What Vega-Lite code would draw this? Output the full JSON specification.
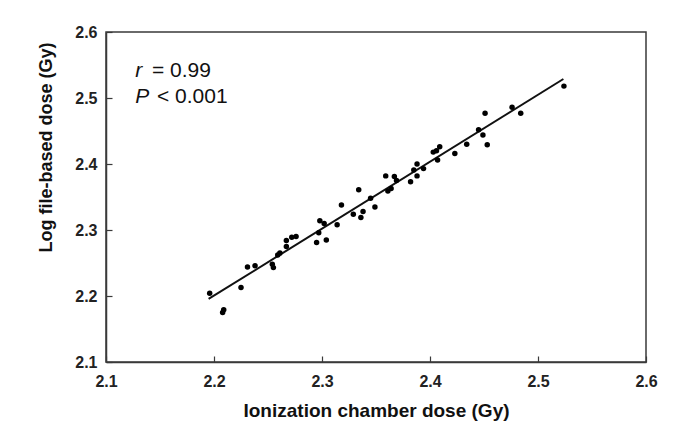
{
  "$schema": "https://vega.github.io/schema/vega-lite/v6.json",
  "width": 540,
  "height": 330,
  "autosize": "none",
  "padding": {"left": 106, "top": 32, "right": 40, "bottom": 66},
  "background": "white",
  "config": {
    "font": "Liberation Sans",
    "view": {"stroke": "#3a3a3a", "strokeWidth": 1.5},
    "axis": {
      "grid": false,
      "domainColor": "#3a3a3a",
      "domainWidth": 1.5,
      "tickColor": "#3a3a3a",
      "tickWidth": 1.2,
      "tickSize": -6,
      "labelFont": "Liberation Sans",
      "labelFontSize": 16,
      "labelFontWeight": "bold",
      "labelColor": "#222",
      "labelOverlap": false,
      "labelFlush": false,
      "titleFont": "Liberation Sans",
      "titleFontWeight": "bold",
      "titleColor": "#111"
    }
  },
  "datasets": {
    "points": [
      {"chamber": 2.196, "logfile": 2.204},
      {"chamber": 2.209, "logfile": 2.179},
      {"chamber": 2.208, "logfile": 2.175},
      {"chamber": 2.225, "logfile": 2.213},
      {"chamber": 2.231, "logfile": 2.244},
      {"chamber": 2.238, "logfile": 2.246},
      {"chamber": 2.254, "logfile": 2.248},
      {"chamber": 2.255, "logfile": 2.243},
      {"chamber": 2.259, "logfile": 2.262},
      {"chamber": 2.261, "logfile": 2.265},
      {"chamber": 2.267, "logfile": 2.284},
      {"chamber": 2.267, "logfile": 2.275},
      {"chamber": 2.272, "logfile": 2.289},
      {"chamber": 2.276, "logfile": 2.29},
      {"chamber": 2.295, "logfile": 2.281},
      {"chamber": 2.297, "logfile": 2.296},
      {"chamber": 2.298, "logfile": 2.314},
      {"chamber": 2.302, "logfile": 2.31},
      {"chamber": 2.304, "logfile": 2.285},
      {"chamber": 2.314, "logfile": 2.308},
      {"chamber": 2.318, "logfile": 2.338},
      {"chamber": 2.329, "logfile": 2.324},
      {"chamber": 2.336, "logfile": 2.319},
      {"chamber": 2.338, "logfile": 2.328},
      {"chamber": 2.334, "logfile": 2.361},
      {"chamber": 2.345, "logfile": 2.348},
      {"chamber": 2.349, "logfile": 2.335},
      {"chamber": 2.359, "logfile": 2.382},
      {"chamber": 2.361, "logfile": 2.359},
      {"chamber": 2.364, "logfile": 2.363},
      {"chamber": 2.367, "logfile": 2.381},
      {"chamber": 2.369, "logfile": 2.375},
      {"chamber": 2.382, "logfile": 2.373},
      {"chamber": 2.385, "logfile": 2.391},
      {"chamber": 2.388, "logfile": 2.4},
      {"chamber": 2.388, "logfile": 2.382},
      {"chamber": 2.394, "logfile": 2.393},
      {"chamber": 2.403, "logfile": 2.418},
      {"chamber": 2.406, "logfile": 2.42},
      {"chamber": 2.409, "logfile": 2.426},
      {"chamber": 2.407, "logfile": 2.406},
      {"chamber": 2.423, "logfile": 2.416},
      {"chamber": 2.434, "logfile": 2.43},
      {"chamber": 2.445, "logfile": 2.452},
      {"chamber": 2.449, "logfile": 2.444},
      {"chamber": 2.451, "logfile": 2.477},
      {"chamber": 2.453, "logfile": 2.429},
      {"chamber": 2.476, "logfile": 2.486},
      {"chamber": 2.484, "logfile": 2.477},
      {"chamber": 2.524, "logfile": 2.518}
    ],
    "fit": [
      {"chamber": 2.195, "logfile": 2.1955},
      {"chamber": 2.5235, "logfile": 2.5288}
    ],
    "italicText": [
      {"x": 2.127, "y": 2.532, "t": "r"},
      {"x": 2.127, "y": 2.493, "t": "P"}
    ],
    "plainText": [
      {"x": 2.1426, "y": 2.532, "t": "= 0.99"},
      {"x": 2.1472, "y": 2.493, "t": "< 0.001"}
    ]
  },
  "encoding": {
    "x": {
      "field": "chamber",
      "type": "quantitative",
      "scale": {"domain": [2.1, 2.6], "nice": false, "zero": false},
      "axis": {
        "title": "Ionization chamber dose (Gy)",
        "values": [2.1, 2.2, 2.3, 2.4, 2.5, 2.6],
        "format": ".1f",
        "labelPadding": 17,
        "titleFontSize": 19,
        "titleY": 48,
        "titleBaseline": "middle"
      }
    },
    "y": {
      "field": "logfile",
      "type": "quantitative",
      "scale": {"domain": [2.1, 2.6], "nice": false, "zero": false},
      "axis": {
        "title": "Log file-based dose (Gy)",
        "values": [2.1, 2.2, 2.3, 2.4, 2.5, 2.6],
        "format": ".1f",
        "labelPadding": 15,
        "titleFontSize": 18,
        "titleX": -60,
        "titleY": 115,
        "titleBaseline": "middle",
        "titleAlign": "center"
      }
    }
  },
  "layer": [
    {
      "data": {"name": "fit"},
      "mark": {"type": "line", "color": "#111", "strokeWidth": 2}
    },
    {
      "data": {"name": "points"},
      "mark": {"type": "circle", "color": "#000", "opacity": 1, "size": 30}
    },
    {
      "data": {"name": "italicText"},
      "mark": {"type": "text", "font": "Liberation Sans", "fontSize": 21, "fontStyle": "italic", "align": "left", "baseline": "alphabetic", "color": "#111"},
      "encoding": {
        "x": {"field": "x", "type": "quantitative"},
        "y": {"field": "y", "type": "quantitative"},
        "text": {"field": "t"}
      }
    },
    {
      "data": {"name": "plainText"},
      "mark": {"type": "text", "font": "Liberation Sans", "fontSize": 21, "align": "left", "baseline": "alphabetic", "color": "#111"},
      "encoding": {
        "x": {"field": "x", "type": "quantitative"},
        "y": {"field": "y", "type": "quantitative"},
        "text": {"field": "t"}
      }
    }
  ]
}
